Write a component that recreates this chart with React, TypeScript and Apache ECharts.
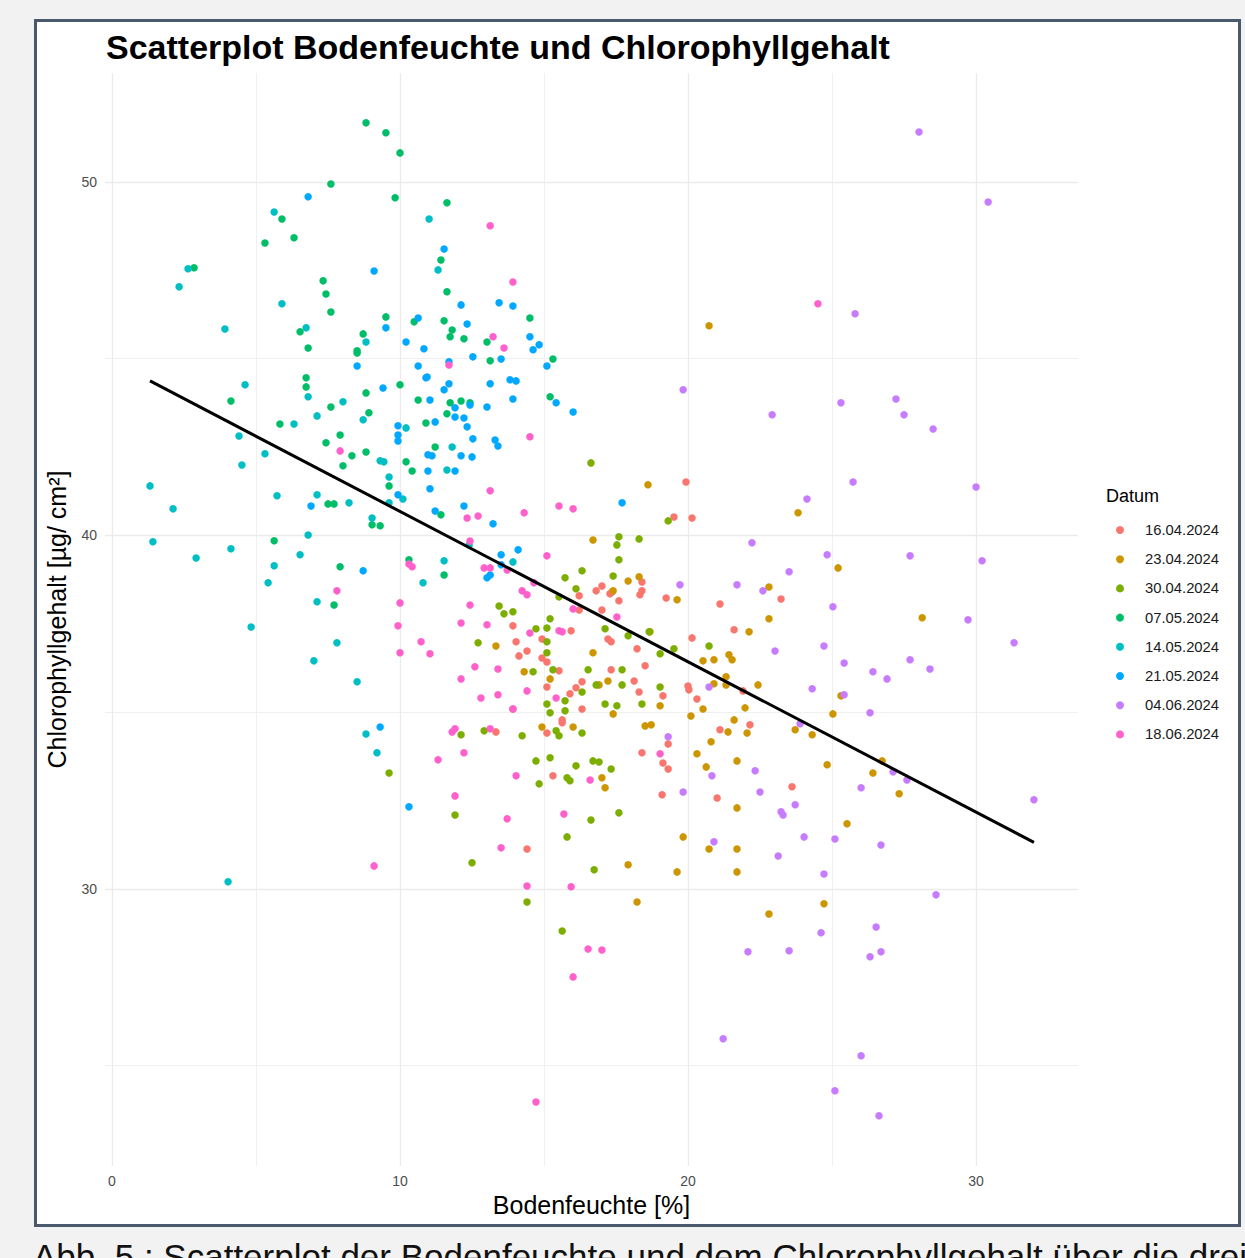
import React, { useEffect, useRef } from "react";
import * as echarts from "echarts";

// ---------- data ----------
const dates = [
  "16.04.2024",
  "23.04.2024",
  "30.04.2024",
  "07.05.2024",
  "14.05.2024",
  "21.05.2024",
  "04.06.2024",
  "18.06.2024",
];

// [Bodenfeuchte %, Chlorophyllgehalt µg/cm²]
const d1604: [number, number][] = [
  [19.93, 41.51], [19.51, 40.52], [20.14, 40.49], [17.01, 38.57], [16.81, 38.43], [17.29, 38.35], [17.36, 38.4],
  [18.4, 38.68], [18.4, 38.43], [18.33, 38.32], [17.6, 38.15], [19.24, 38.23], [16.22, 38.29], [16.22, 37.89],
  [17.01, 37.89], [21.11, 38.06], [21.6, 37.33], [15.94, 37.3], [17.22, 37.07], [17.33, 36.99], [18.23, 36.79],
  [20.14, 37.1], [14.93, 37.07], [14.03, 36.99], [14.41, 36.73], [14.13, 36.59], [13.92, 37.44], [14.93, 36.53],
  [15.1, 36.42], [15.52, 36.17], [17.33, 36.2], [18.51, 36.31], [18.13, 35.88], [18.3, 35.57], [19.13, 35.46],
  [20.0, 35.74], [20.03, 35.63], [20.31, 35.37], [16.32, 35.86], [16.11, 35.69], [15.9, 35.52], [15.1, 35.71],
  [16.32, 35.09], [13.92, 35.09], [15.63, 34.78], [15.63, 34.7], [13.33, 34.44], [15.1, 34.41], [21.11, 34.5],
  [19.31, 34.1], [18.4, 33.85], [19.13, 33.56], [19.31, 33.39], [15.31, 33.2], [19.1, 32.66], [21.01, 32.57],
  [21.91, 35.6], [22.15, 34.64], [23.23, 38.2], [23.61, 32.89], [14.41, 31.13],
];

const d2304: [number, number][] = [
  [20.73, 45.93], [18.61, 41.43], [16.7, 39.87], [18.3, 38.83], [17.92, 38.71], [17.4, 38.43], [19.62, 38.18],
  [18.68, 37.27], [13.33, 36.87], [16.7, 36.68], [20.52, 36.45], [20.9, 36.48], [21.42, 36.62], [21.53, 36.48],
  [14.31, 36.14], [15.21, 35.94], [17.22, 35.88], [16.91, 35.77], [21.32, 36.0], [21.32, 35.77], [20.9, 35.8],
  [19.03, 35.18], [17.4, 34.95], [20.52, 35.09], [20.1, 34.89], [21.98, 35.12], [21.6, 34.78], [14.93, 34.58],
  [16.01, 34.58], [18.51, 34.61], [18.72, 34.64], [21.39, 34.44], [22.05, 34.41], [20.8, 34.16], [20.31, 33.82],
  [20.63, 33.45], [21.7, 33.62], [17.01, 33.14], [17.12, 32.86], [23.82, 40.64], [25.21, 39.08], [22.81, 38.54],
  [22.81, 37.64], [22.12, 37.27], [28.13, 37.67], [22.43, 35.77], [25.31, 35.46], [25.03, 34.95], [23.72, 34.5],
  [24.31, 34.36], [24.83, 33.51], [26.42, 33.28], [26.74, 33.62], [27.33, 32.69], [19.83, 31.47], [17.92, 30.68],
  [19.62, 30.48], [20.73, 31.13], [21.7, 31.13], [21.7, 32.29], [21.7, 30.48], [18.23, 29.63], [25.52, 31.84],
  [22.81, 29.29], [24.72, 29.58],
];

const d3004: [number, number][] = [
  [16.63, 42.05], [19.31, 40.41], [17.6, 39.96], [18.3, 39.9], [17.53, 39.73], [17.6, 39.31], [17.4, 38.85],
  [16.32, 39.0], [15.73, 38.8], [16.11, 38.49], [15.52, 38.26], [15.21, 37.64], [14.72, 37.36], [15.1, 37.38],
  [15.1, 36.99], [15.1, 36.68], [12.71, 36.96], [13.44, 38.0], [13.61, 37.78], [13.92, 37.84], [17.12, 37.36],
  [17.92, 37.16], [18.65, 37.27], [19.51, 36.79], [19.03, 36.65], [20.73, 36.87], [14.62, 36.14], [15.31, 36.2],
  [16.53, 36.2], [17.71, 36.2], [16.81, 35.77], [17.71, 35.77], [16.32, 35.57], [19.03, 35.71], [15.73, 35.32],
  [15.1, 35.23], [15.21, 34.98], [15.73, 35.04], [17.12, 35.23], [17.53, 35.18], [18.4, 35.23], [12.12, 34.36],
  [12.92, 34.47], [14.24, 34.33], [15.42, 34.47], [15.52, 34.33], [16.32, 34.41], [14.72, 33.62], [15.21, 33.71],
  [16.7, 33.62], [16.91, 33.59], [16.11, 33.48], [17.33, 33.39], [14.83, 32.97], [15.8, 33.14], [15.9, 33.06],
  [11.91, 32.09], [12.5, 30.74], [14.41, 29.63], [15.8, 31.47], [16.63, 31.95], [17.6, 32.15], [16.74, 30.54],
  [15.63, 28.81], [9.62, 33.28],
];

const d0705: [number, number][] = [
  [8.82, 51.67], [9.51, 51.39], [10.0, 50.82], [7.6, 49.94], [9.83, 49.55], [11.63, 49.41], [5.9, 48.95],
  [5.31, 48.27], [6.32, 48.42], [2.85, 47.57], [7.33, 47.2], [7.43, 46.83], [11.42, 47.79], [11.63, 46.89],
  [7.6, 46.32], [9.51, 46.18], [10.49, 46.04], [11.53, 46.07], [11.81, 45.81], [11.74, 45.62], [12.22, 45.56],
  [13.02, 45.47], [14.51, 46.15], [6.53, 45.76], [8.72, 45.7], [6.81, 45.3], [8.51, 45.22], [8.51, 45.16],
  [13.13, 44.94], [15.31, 44.99], [6.74, 44.46], [6.74, 44.2], [10.0, 44.26], [8.82, 44.03], [4.13, 43.8],
  [10.63, 43.83], [7.6, 43.63], [8.92, 43.47], [11.74, 43.75], [12.12, 43.8], [12.43, 43.75], [11.63, 43.44],
  [10.9, 43.18], [5.83, 43.15], [15.21, 43.92], [7.92, 42.84], [7.43, 42.62], [8.33, 42.25], [8.02, 41.97],
  [8.82, 42.36], [10.21, 42.08], [10.42, 41.82], [9.62, 41.4], [11.22, 42.5], [7.5, 40.89], [7.71, 40.89],
  [9.03, 40.3], [9.31, 40.27], [5.63, 39.85], [7.92, 39.11], [7.71, 38.03], [10.31, 39.31], [11.42, 40.58],
  [11.53, 38.88],
];

const d1405: [number, number][] = [
  [5.63, 49.15], [2.64, 47.54], [2.33, 47.03], [5.9, 46.55], [3.92, 45.84], [6.74, 45.87], [8.82, 45.47],
  [11.01, 48.95], [11.32, 47.51], [4.62, 44.26], [6.81, 43.92], [8.02, 43.78], [7.12, 43.38], [6.32, 43.15],
  [8.72, 43.27], [10.21, 43.04], [4.41, 42.81], [5.31, 42.31], [4.51, 41.99], [1.32, 41.4], [2.12, 40.75],
  [5.73, 41.12], [7.12, 41.15], [8.23, 40.92], [9.31, 42.11], [9.44, 42.08], [9.62, 41.65], [9.62, 40.92],
  [10.1, 41.03], [9.03, 40.49], [1.42, 39.82], [2.92, 39.36], [4.13, 39.62], [6.81, 40.01], [6.53, 39.45],
  [5.63, 39.14], [5.42, 38.66], [7.12, 38.12], [4.83, 37.41], [7.81, 36.96], [7.01, 36.45], [8.51, 35.86],
  [8.82, 34.38], [9.2, 33.85], [10.8, 38.66], [11.81, 42.5], [11.63, 41.85], [11.53, 39.28], [13.92, 39.25],
  [12.4, 39.73], [4.03, 30.2],
];

const d2105: [number, number][] = [
  [6.81, 49.58], [9.1, 47.48], [11.53, 48.1], [10.63, 46.15], [9.51, 45.87], [10.21, 45.47], [10.83, 45.28],
  [8.51, 44.79], [10.63, 44.79], [10.94, 44.48], [9.41, 44.17], [9.93, 43.1], [9.93, 42.84], [9.93, 42.67],
  [11.04, 43.83], [12.12, 46.52], [13.44, 46.58], [13.92, 46.49], [12.33, 45.98], [12.53, 45.05], [13.51, 44.99],
  [11.7, 44.91], [14.51, 45.62], [14.83, 45.39], [14.62, 45.25], [15.1, 44.79], [10.9, 44.46], [11.7, 44.29],
  [11.53, 44.12], [13.13, 44.29], [13.82, 44.4], [14.03, 44.37], [13.92, 43.86], [15.42, 43.75], [16.01, 43.49],
  [12.43, 43.69], [11.91, 43.61], [13.02, 43.63], [11.91, 43.35], [12.22, 43.32], [11.22, 43.21], [12.33, 43.07],
  [12.53, 42.73], [13.3, 42.7], [10.97, 42.28], [10.97, 41.82], [11.04, 41.32], [9.93, 41.15], [6.91, 40.83],
  [8.72, 39.0], [13.4, 42.53], [11.11, 42.25], [12.12, 42.25], [12.5, 42.22], [11.91, 41.82], [12.22, 40.83],
  [11.22, 40.69], [13.23, 40.33], [17.71, 40.92], [14.1, 39.59], [13.51, 39.45], [13.51, 39.17], [13.02, 38.8],
  [13.13, 38.88], [10.31, 32.32], [9.31, 34.58],
];

const d0406: [number, number][] = [
  [28.02, 51.41], [30.42, 49.43], [25.8, 46.27], [19.83, 44.12], [22.92, 43.41], [25.31, 43.75], [27.22, 43.86],
  [27.5, 43.41], [28.51, 43.01], [25.73, 41.51], [24.13, 41.03], [30.0, 41.37], [22.22, 39.79], [24.83, 39.45],
  [27.71, 39.42], [30.21, 39.28], [23.51, 38.97], [21.7, 38.6], [19.72, 38.6], [22.6, 38.43], [25.03, 37.98],
  [29.72, 37.61], [31.32, 36.96], [23.02, 36.73], [24.72, 36.87], [25.42, 36.39], [26.42, 36.14], [26.91, 35.94],
  [27.71, 36.48], [28.4, 36.22], [24.31, 35.66], [25.42, 35.49], [26.32, 34.98], [23.89, 34.67], [20.73, 35.71],
  [19.31, 34.3], [20.83, 33.2], [22.33, 33.34], [22.5, 32.74], [26.01, 32.86], [27.12, 33.31], [27.6, 33.08],
  [19.83, 32.74], [32.01, 32.52], [23.23, 32.18], [23.3, 32.09], [23.72, 32.38], [24.03, 31.47], [23.13, 30.93],
  [25.1, 31.41], [26.7, 31.24], [24.72, 30.42], [20.9, 31.33], [28.61, 29.83], [26.53, 28.92], [24.62, 28.76],
  [23.51, 28.25], [22.08, 28.22], [26.32, 28.08], [26.7, 28.22], [21.22, 25.76], [26.01, 25.28], [25.1, 24.29],
  [26.63, 23.58],
];

const d1806: [number, number][] = [
  [13.13, 48.76], [13.92, 47.17], [13.23, 45.62], [13.61, 45.3], [11.7, 44.82], [14.51, 42.79], [24.51, 46.55],
  [7.92, 42.39], [10.31, 39.19], [10.42, 39.11], [10.0, 38.09], [7.81, 38.43], [9.93, 37.44], [10.73, 36.99],
  [10.0, 36.68], [11.04, 36.65], [13.13, 41.26], [12.33, 40.49], [12.71, 40.55], [14.31, 40.64], [12.43, 39.84],
  [15.52, 40.83], [16.01, 40.75], [15.1, 39.42], [12.92, 39.08], [13.13, 39.08], [13.72, 39.02], [14.24, 38.43],
  [14.41, 38.32], [14.65, 38.66], [16.01, 37.92], [17.53, 37.69], [12.43, 38.03], [12.12, 37.52], [13.02, 37.47],
  [14.51, 37.24], [15.52, 37.3], [15.63, 37.27], [12.6, 36.28], [13.4, 36.22], [12.12, 35.94], [14.41, 35.6],
  [12.81, 35.4], [13.4, 35.49], [15.42, 35.4], [13.92, 35.09], [11.81, 34.44], [11.91, 34.53], [13.13, 34.53],
  [12.22, 33.85], [11.32, 33.65], [14.03, 33.2], [16.6, 33.08], [11.91, 32.63], [19.03, 33.82], [13.72, 31.98],
  [13.51, 31.16], [15.69, 32.12], [14.41, 30.08], [15.94, 30.06], [16.53, 28.3], [17.01, 28.27], [16.01, 27.51],
  [14.72, 23.97], [9.1, 30.65],
];

const seriesValues = [d1604, d2304, d3004, d0705, d1405, d2105, d0406, d1806];

// axis ticks / grid
const xMajorGrid = [0, 10, 20, 30];
const xMinorGrid = [5, 15, 25];
const yMajorGrid = [30, 40, 50];
const yMinorGrid = [25, 35, 45];
const xTickLabels = [0, 10, 20, 30];
const yTickLabels = [30, 40, 50];

// linear fit
const fitIntercept = 44.93;
const fitSlope = -0.4253;

// ---------- styling ----------
const palette = ["#F8766D", "#CD9600", "#7CAE00", "#00BE67", "#00BFC4", "#00A9FF", "#C77CFF", "#FF61CC"];
const FONT = "'Liberation Sans', Arial, Helvetica, sans-serif";

export default function App() {
  const ref = useRef<HTMLDivElement>(null);

  useEffect(() => {
    if (!ref.current) return;
    const chart = echarts.init(ref.current, null, { renderer: "svg" });

    const allX = seriesValues.flat().map((p) => p[0]);
    const xMin = Math.min(...allX);
    const xMax = Math.max(...allX);
    const fitLine = [
      [xMin, fitIntercept + fitSlope * xMin],
      [xMax, fitIntercept + fitSlope * xMax],
    ];

    const majorStyle = { color: "#ebebeb", width: 1.3, type: "solid" };
    const minorStyle = { color: "#f0f0f0", width: 1, type: "solid" };

    const gridSeries: any = {
      type: "line",
      data: [],
      silent: true,
      z: 1,
      markLine: {
        silent: true,
        symbol: ["none", "none"],
        label: { show: false },
        z: 1,
        animation: false,
        data: [
          ...xMinorGrid.map((v) => ({ xAxis: v, lineStyle: minorStyle })),
          ...yMinorGrid.map((v) => ({ yAxis: v, lineStyle: minorStyle })),
          ...xMajorGrid.map((v) => ({ xAxis: v, lineStyle: majorStyle })),
          ...yMajorGrid.map((v) => ({ yAxis: v, lineStyle: majorStyle })),
        ],
      },
    };

    const scatterSeries = seriesValues.map((vals, i) => ({
      name: dates[i],
      type: "scatter",
      data: vals,
      symbol: "circle",
      symbolSize: 7.5,
      itemStyle: { color: palette[i], opacity: 1 },
      z: 2,
    }));

    const option: any = {
      animation: false,
      backgroundColor: "transparent",
      textStyle: { fontFamily: FONT },
      title: {
        text: "Scatterplot Bodenfeuchte und Chlorophyllgehalt",
        left: 101,
        top: 25,
        textStyle: { fontFamily: FONT, fontSize: 34, fontWeight: "bold", color: "#000" },
      },
      grid: { left: 105, right: 167, top: 73, bottom: 92, containLabel: false },
      xAxis: {
        type: "value",
        min: -0.243,
        max: 33.54,
        name: "Bodenfeuchte [%]",
        nameLocation: "middle",
        nameGap: 12,
        nameTextStyle: { fontFamily: FONT, fontSize: 25, color: "#000" },
        axisLine: { show: false },
        axisTick: { show: false },
        splitLine: { show: false },
        axisLabel: {
          customValues: xTickLabels,
          color: "#4d4d4d",
          fontSize: 14,
          margin: 8,
          fontFamily: FONT,
        },
      },
      yAxis: {
        type: "value",
        min: 22.16,
        max: 53.08,
        name: "Chlorophyllgehalt [µg/ cm²]",
        nameLocation: "middle",
        nameGap: 36,
        nameTextStyle: { fontFamily: FONT, fontSize: 25, color: "#000" },
        axisLine: { show: false },
        axisTick: { show: false },
        splitLine: { show: false },
        axisLabel: {
          customValues: yTickLabels,
          color: "#4d4d4d",
          fontSize: 14,
          margin: 8,
          fontFamily: FONT,
        },
      },
      legend: {
        data: dates,
        orient: "vertical",
        left: 1111,
        top: 517,
        itemWidth: 8,
        itemHeight: 8,
        itemGap: 13.2,
        icon: "circle",
        textStyle: { fontFamily: FONT, fontSize: 14.8, color: "#1a1a1a", lineHeight: 16, padding: [0, 0, 0, 16] },
        selectedMode: false,
      },
      graphic: [
        {
          type: "text",
          left: 1106,
          top: 487,
          style: { text: "Datum", fontFamily: FONT, fontSize: 18, fill: "#000" },
        },
      ],
      series: [
        gridSeries,
        ...scatterSeries,
        {
          type: "line",
          data: fitLine,
          symbol: "none",
          silent: true,
          lineStyle: { color: "#000", width: 3 },
          z: 3,
        },
      ],
    };

    chart.setOption(option);
    return () => chart.dispose();
  }, []);

  return (
    <div
      style={{
        position: "fixed",
        left: 0,
        top: 0,
        width: 1245,
        height: 1258,
        background: "#f2f2f2",
        overflow: "hidden",
        fontFamily: FONT,
      }}
    >
      <div
        style={{
          position: "absolute",
          left: 34,
          top: 19,
          width: 1207,
          height: 1208,
          boxSizing: "border-box",
          border: "3px solid #4b596d",
          background: "#fff",
        }}
      />
      <div ref={ref} style={{ position: "absolute", left: 0, top: 0, width: 1245, height: 1258 }} />
      <div
        style={{
          position: "absolute",
          left: 33,
          top: 1237,
          fontSize: 35,
          whiteSpace: "nowrap",
          color: "#111",
        }}
      >
        Abb. 5.: Scatterplot der Bodenfeuchte und dem Chlorophyllgehalt über die drei
      </div>
    </div>
  );
}
